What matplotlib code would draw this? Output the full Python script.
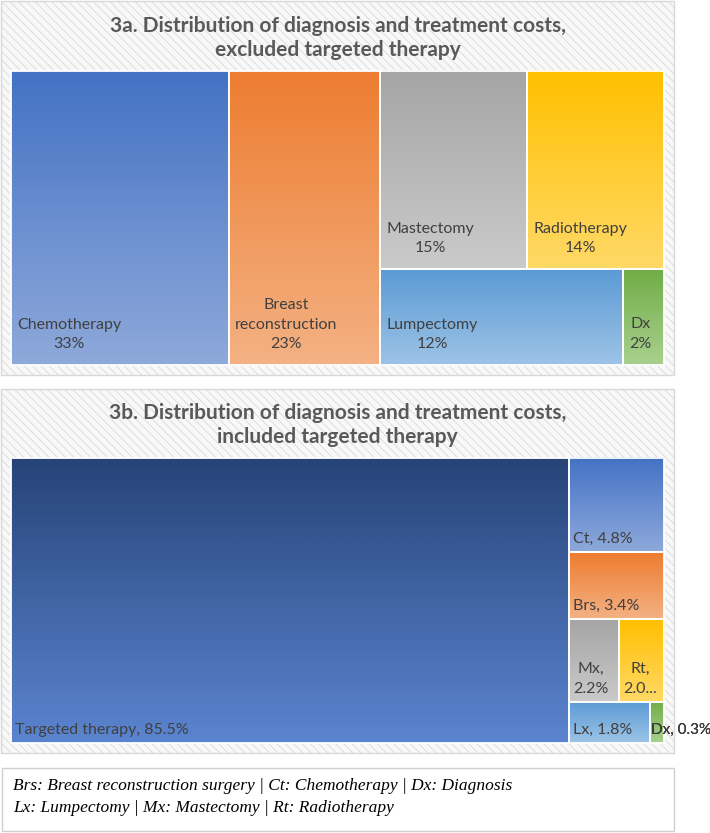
import matplotlib
matplotlib.use("Agg")
import matplotlib.pyplot as plt
from matplotlib.patches import Rectangle
from matplotlib.colors import to_rgb
import numpy as np

# ---- data ----
names_a = ["Chemotherapy", "Breast\nreconstruction", "Mastectomy", "Radiotherapy", "Lumpectomy", "Dx"]
values_a = [33, 23, 15, 14, 12, 2]

names_b = ["Targeted therapy", "Ct", "Brs", "Mx", "Rt", "Lx", "Dx"]
values_b = [85.5, 4.8, 3.4, 2.2, 2.0, 1.8, 0.3]
labels_b = ["Targeted therapy, 85.5%", "Ct, 4.8%", "Brs, 3.4%", "Mx,\n2.2%", "Rt,\n2.0...", "Lx, 1.8%", "Dx, 0.3%"]

title_a = "3a. Distribution of diagnosis and treatment costs,\nexcluded targeted therapy"
title_b = "3b. Distribution of diagnosis and treatment costs,\nincluded targeted therapy"
legend_lines = ["Brs: Breast reconstruction surgery | Ct: Chemotherapy | Dx: Diagnosis",
                "Lx: Lumpectomy | Mx: Mastectomy | Rt: Radiotherapy"]

# gradient colours (top, bottom)
cols_a = [("#4472C4", "#8EA9DB"), ("#ED7D31", "#F4B183"), ("#A5A5A5", "#CACACA"),
          ("#FFC000", "#FFD966"), ("#5B9BD5", "#9DC3E6"), ("#70AD47", "#A9D18E")]
cols_b = [("#264478", "#5B84D0")] + cols_a

TXT = "#404040"
FONT = "Lato"
LSIZE = 11.5


def worst(row, side):
    s = sum(row)
    return max(max(side * side * r / (s * s), s * s / (side * side * r)) for r in row)


def squarify(values, x, y, w, h):
    total = float(sum(values))
    areas = [v / total * w * h for v in values]
    rects = []
    i = 0
    while i < len(areas):
        side = min(w, h)
        row = [areas[i]]
        j = i + 1
        while j < len(areas) and worst(row + [areas[j]], side) <= worst(row, side):
            row.append(areas[j])
            j += 1
        s = sum(row)
        if w >= h:
            cw = s / h
            yy = y
            for a in row:
                rects.append((x, yy, cw, a / cw))
                yy += a / cw
            x += cw
            w -= cw
        else:
            rh = s / w
            xx = x
            for a in row:
                rects.append((xx, y, a / rh, rh))
                xx += a / rh
            y += rh
            h -= rh
        i = j
    return rects


def gradient_box(ax, r, top, bottom):
    x, y, w, h = r
    t = np.linspace(0, 1, 64)[:, None, None]
    img = (1 - t) * np.array(to_rgb(top)) + t * np.array(to_rgb(bottom))
    ax.imshow(img, extent=(x, x + w, y + h, y), origin="upper", aspect="auto",
              interpolation="bilinear", zorder=2)
    ax.add_patch(Rectangle((x, y), w, h, fc="none", ec="white", lw=1.3, zorder=3))


def panel(ax, x, y, w, h):
    ax.add_patch(Rectangle((x, y), w, h, fc="#f8f8f8", ec="#d9d9d9", lw=1.0,
                           hatch="\\\\\\\\", zorder=0))


plt.rcParams["hatch.color"] = "#dedede"
plt.rcParams["hatch.linewidth"] = 0.6

fig = plt.figure(figsize=(7.10, 8.33), dpi=100)
ax = fig.add_axes([0, 0, 1, 1])
ax.set_xlim(0, 710)
ax.set_ylim(833, 0)
ax.axis("off")

# ---- 3a ----
panel(ax, 1, 1, 673, 374)
ax.text(337.5, 38, title_a, ha="center", va="center", fontsize=15, fontweight="bold",
        color="#595959", family=FONT, linespacing=1.3)
rects_a = squarify(values_a, 11, 71, 653, 294)
for r, nm, v, c in zip(rects_a, names_a, values_a, cols_a):
    gradient_box(ax, r, *c)
    x, y, w, h = r
    ax.text(x + 6, y + h - 14, "%s\n%d%%" % (nm, v), ha="left", va="bottom",
            multialignment="center", fontsize=LSIZE, color=TXT, family=FONT,
            linespacing=1.5, zorder=4)

# ---- 3b ----
panel(ax, 1, 389, 673, 364)
ax.text(337.5, 425, title_b, ha="center", va="center", fontsize=15, fontweight="bold",
        color="#595959", family=FONT, linespacing=1.3)
rects_b = squarify(values_b, 11, 458, 653, 285)
for r, lab, c in zip(rects_b, labels_b, cols_b):
    gradient_box(ax, r, *c)
    x, y, w, h = r
    small = w < 20
    dx = 1 if small else 4
    ax.text(x + dx, y + h - 6, lab, ha="left", va="bottom",
            multialignment="center", fontsize=11 if small else LSIZE,
            color="black" if small else TXT,
            family=FONT, linespacing=1.5, zorder=4)
    if small:
        inner = ax.text(x + dx, y + h - 6, lab, ha="left", va="bottom", fontsize=11,
                        color=TXT, family=FONT, zorder=5)
        inner.set_clip_path(Rectangle((x, y), w, h, transform=ax.transData))

# ---- legend box ----
ax.add_patch(Rectangle((2, 768), 672, 63, fc="white", ec="#d0d0d0", lw=1.0, zorder=0))
for k, line in enumerate(legend_lines):
    ax.text(13, 786 + 22 * k, line, ha="left", va="center", fontsize=12.5,
            style="italic", family="Liberation Serif", color="black")

fig.savefig("out.png", dpi=100)
